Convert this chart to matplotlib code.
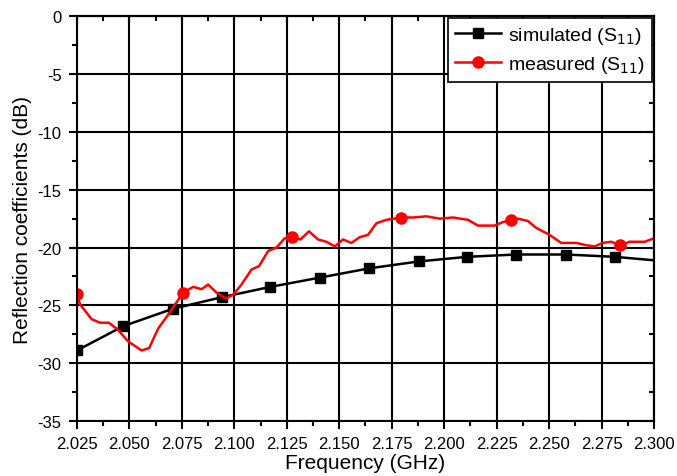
import matplotlib
matplotlib.use('agg')
import matplotlib.pyplot as plt
from matplotlib.ticker import MultipleLocator, AutoMinorLocator
import numpy as np

plt.rcParams['font.family'] = ['Liberation Sans', 'DejaVu Sans']
plt.rcParams['axes.unicode_minus'] = False

# simulated S11
sim_freq = [2.025, 2.047, 2.0706, 2.0939, 2.1172, 2.1407, 2.1642, 2.1879,
            2.2110, 2.2344, 2.2579, 2.2812, 2.300]
sim_s11 = [-28.9, -26.8, -25.3, -24.3, -23.4, -22.6, -21.8, -21.2,
           -20.8, -20.6, -20.6, -20.8, -21.1]

# measured S11
meas_freq = [2.025, 2.0264, 2.032, 2.036, 2.0402, 2.0445, 2.0493, 2.0558, 2.0594, 2.0637,
             2.0685, 2.0756, 2.0804, 2.0844, 2.0875, 2.0915, 2.096, 2.0994, 2.1034, 2.1082,
             2.1118, 2.1161, 2.1201, 2.124, 2.1277, 2.1315, 2.1356, 2.1399, 2.1439, 2.1479,
             2.1518, 2.1558, 2.1598, 2.1637, 2.1677, 2.1725, 2.1796, 2.1851, 2.1915, 2.1979,
             2.2042, 2.2113, 2.2161, 2.2240, 2.2280, 2.2320, 2.2351, 2.2399, 2.2439, 2.2502,
             2.2558, 2.2630, 2.2677, 2.2717, 2.2756, 2.2796, 2.2839, 2.2883, 2.2955, 2.300]
meas_s11 = [-24.0, -24.9, -26.2, -26.5, -26.5, -27.1, -28.1, -28.9, -28.7, -27.0,
            -25.8, -23.9, -23.4, -23.6, -23.2, -23.9, -24.4, -24.1, -23.2, -21.9,
            -21.6, -20.3, -20.0, -19.2, -19.1, -19.3, -18.6, -19.3, -19.5, -19.9,
            -19.3, -19.6, -19.1, -18.9, -17.9, -17.6, -17.4, -17.4, -17.3, -17.5,
            -17.4, -17.6, -18.1, -18.1, -17.8, -17.6, -17.5, -17.7, -18.3, -18.9,
            -19.6, -19.6, -19.8, -19.9, -19.6, -19.5, -19.8, -19.5, -19.5, -19.2]
meas_markers = [0, 11, 24, 36, 45, 56]

xticks = np.arange(2.025, 2.3001, 0.025)

fig = plt.figure(figsize=(6.77, 4.77), dpi=100)
ax = fig.add_axes([0.1137, 0.1153, 0.8523, 0.8484])

l1, = ax.plot(sim_freq, sim_s11, color='black', lw=1.8, marker='s', markersize=7,
              markevery=list(range(len(sim_freq) - 1)), label='simulated (S$_{11}$)')
l2, = ax.plot(meas_freq, meas_s11, color='red', lw=1.8, marker='o', markersize=8,
              markevery=meas_markers, label='measured (S$_{11}$)')
for ln in (l1, l2):
    ln.set_clip_path(ax.patch)

ax.set_xlim(2.025, 2.300)
ax.set_ylim(-35, 0)
ax.set_xticks(xticks)
ax.set_xticklabels(['%.3f' % v for v in xticks])
ax.xaxis.set_minor_locator(AutoMinorLocator(2))
ax.yaxis.set_major_locator(MultipleLocator(5))
ax.yaxis.set_minor_locator(AutoMinorLocator(2))

ax.grid(True, which='major', color='black', lw=1.5)
for s in ax.spines.values():
    s.set_linewidth(1.5)
ax.tick_params(which='both', direction='out', width=1.5, labelsize=12)
ax.tick_params(axis='x', pad=5)
ax.tick_params(axis='y', pad=5)
ax.tick_params(which='major', length=6)
ax.tick_params(which='minor', length=3.6)

# inward ticks on top and right
top = ax.secondary_xaxis('top')
top.set_xticks(xticks)
top.xaxis.set_minor_locator(AutoMinorLocator(2))
right = ax.secondary_yaxis('right')
right.yaxis.set_major_locator(MultipleLocator(5))
right.yaxis.set_minor_locator(AutoMinorLocator(2))
for sec in (top, right):
    sec.tick_params(which='both', direction='in', width=1.5, labelsize=0,
                    labeltop=False, labelright=False)
    sec.tick_params(which='major', length=6)
    sec.tick_params(which='minor', length=3.6)
    for s in sec.spines.values():
        s.set_linewidth(1.5)

ax.set_xlabel('Frequency (GHz)', fontsize=15, labelpad=1)
ax.set_ylabel('Reflection coefficients (dB)', fontsize=15, labelpad=4)

leg = ax.legend(loc='upper right', fontsize=14, frameon=True, fancybox=False,
                borderaxespad=0.1, handlelength=2.4, borderpad=0.35,
                labelspacing=0.4, handletextpad=0.35)
leg.get_frame().set_edgecolor('black')
leg.get_frame().set_linewidth(1.2)
leg.get_frame().set_alpha(1)

plt.savefig('out.png', dpi=100)
